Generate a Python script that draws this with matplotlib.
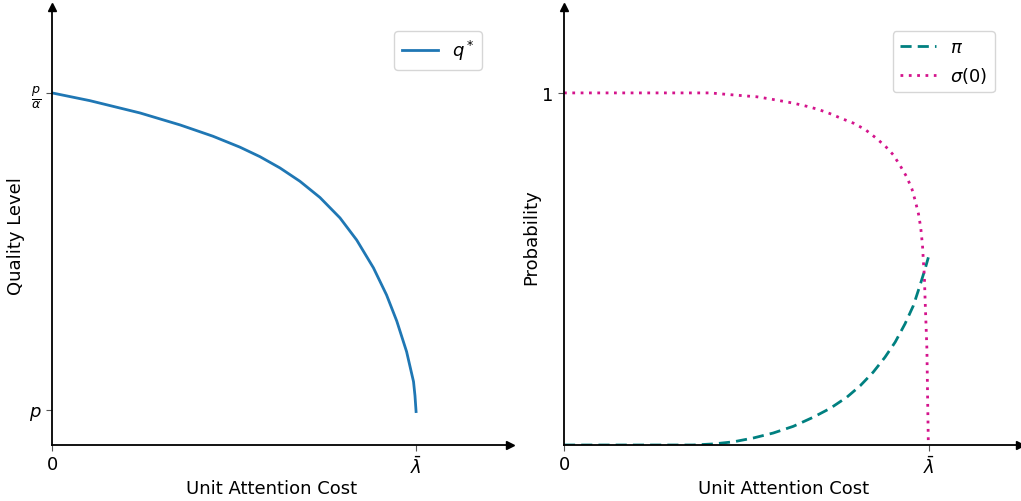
import matplotlib
matplotlib.use("Agg")
import matplotlib.pyplot as plt

# ---- data ----
cost_q = [0.0, 0.104, 0.242, 0.352, 0.442, 0.516, 0.571, 0.626, 0.681, 0.736, 0.791,
          0.837, 0.883, 0.919, 0.947, 0.974, 0.993, 0.997, 1.0]
q_star = [1.0, 0.978, 0.943, 0.909, 0.877, 0.846, 0.819, 0.787, 0.749, 0.703, 0.645,
          0.582, 0.503, 0.426, 0.352, 0.265, 0.180, 0.140, 0.095]

cost_pi = [0.0, 0.354, 0.409, 0.464, 0.519, 0.573, 0.628, 0.683, 0.729, 0.775, 0.811,
           0.847, 0.879, 0.907, 0.934, 0.957, 0.975, 0.989, 0.998]
pi_vals = [0.0, 0.0, 0.003, 0.009, 0.020, 0.034, 0.053, 0.079, 0.104, 0.136, 0.168,
           0.207, 0.249, 0.292, 0.344, 0.396, 0.453, 0.500, 0.533]

cost_sigma = [0.0, 0.400, 0.455, 0.491, 0.528, 0.564, 0.596, 0.628, 0.665, 0.697, 0.729,
              0.761, 0.793, 0.825, 0.852, 0.879, 0.902, 0.921, 0.939, 0.953, 0.962,
              0.971, 0.977, 0.982, 0.984, 0.987, 0.989, 0.994, 0.996, 0.998]
sigma0 = [1.0, 1.0, 0.995, 0.992, 0.989, 0.983, 0.977, 0.971, 0.962, 0.953, 0.941,
          0.927, 0.914, 0.896, 0.874, 0.850, 0.824, 0.793, 0.761, 0.727, 0.694,
          0.656, 0.618, 0.566, 0.528, 0.481, 0.415, 0.273, 0.131, 0.0]

x_ticks = [0, 1.0]
x_ticklabels = ["0", r"$\bar{\lambda}$"]
left_yticks = [0.1, 1.0]
left_yticklabels = [r"$p$", r"$\frac{p}{\alpha}$"]
right_yticks = [1.0]
right_yticklabels = ["1"]

FS = 13

fig = plt.figure(figsize=(10.21, 5.02), dpi=100)
ax1 = fig.add_axes([52/1021, 56/502, 458/1021, 438/502])
ax2 = fig.add_axes([564/1021, 56/502, 456/1021, 438/502])

def style(ax, xmax, label_x):
    ax.set_xlim(0, xmax)
    ax.set_ylim(0, 1.244)
    for s in ("top", "right"):
        ax.spines[s].set_visible(False)
    ax.spines["left"].set_linewidth(1.3)
    ax.spines["bottom"].set_linewidth(1.3)
    ax.plot(1, 0, ">k", markersize=6, transform=ax.transAxes, clip_on=False)
    ax.plot(0, 1, "^k", markersize=6, transform=ax.transAxes, clip_on=False)
    ax.tick_params(axis="both", labelsize=FS, length=4, color="#555555")
    ax.set_xticks(x_ticks)
    ax.set_xticklabels(x_ticklabels)
    ax.set_xlabel("Unit Attention Cost", fontsize=FS)
    ax.xaxis.set_label_coords(label_x, -0.078)

style(ax1, 1.258, (272 - 52) / 458)
ax1.plot(cost_q, q_star, color="#1f77b4", lw=2, label=r"$q^*$")
ax1.set_yticks(left_yticks)
ax1.set_yticklabels(left_yticklabels)
ax1.set_ylabel("Quality Level", fontsize=FS)
ax1.yaxis.set_label_coords(-(52 - 25) / 458, (446 - 236) / 438)
ax1.legend(loc="upper right", bbox_to_anchor=((482 - 52) / 458, (446 - 32) / 438),
           borderaxespad=0, fontsize=FS)

style(ax2, 1.249, (784 - 564) / 456)
ax2.plot(cost_pi, pi_vals, color="#008080", lw=2, ls=(0, (4, 2.2)), label=r"$\pi$")
ax2.plot(cost_sigma, sigma0, color="#d4148c", lw=2, ls=(0, (1, 2)), label=r"$\sigma(0)$")
ax2.set_yticks(right_yticks)
ax2.set_yticklabels(right_yticklabels)
ax2.set_ylabel("Probability", fontsize=FS)
ax2.yaxis.set_label_coords(-(564 - 540) / 456, (446 - 237) / 438)
ax2.legend(loc="upper right", bbox_to_anchor=((995 - 564) / 456, (446 - 32) / 438),
           borderaxespad=0, fontsize=FS)

fig.savefig("out.png", dpi=100)
